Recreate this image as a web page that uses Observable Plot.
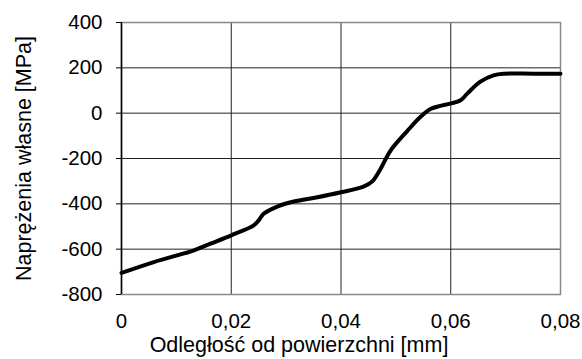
<!DOCTYPE html>
<html><head><meta charset="utf-8">
<script src="https://cdn.jsdelivr.net/npm/d3@7"></script>
<script src="https://cdn.jsdelivr.net/npm/@observablehq/plot@0.6"></script>
<style>body{margin:0;background:#fff;}</style>
</head><body><div id="chart"></div>
<script>
const xValues = [0, 0.0059, 0.0132, 0.0162, 0.02, 0.0241, 0.025, 0.0259, 0.0284, 0.0314, 0.0357, 0.04, 0.0442, 0.0457, 0.0472, 0.049, 0.0521, 0.0545, 0.0563, 0.0581, 0.0599, 0.0618, 0.063, 0.0654, 0.0678, 0.0697, 0.075, 0.08];
const yValues = [-705, -657, -605, -576, -539, -495, -473, -444, -412, -390, -371, -349, -323, -301, -246, -166, -78, -16, 18, 32, 42, 57, 86, 139, 167, 174, 174, 174];
const xTicks = [0, 0.02, 0.04, 0.06, 0.08];
const yTicks = [-800, -600, -400, -200, 0, 200, 400];
const xLabel = "Odległość od powierzchni [mm]";
const yLabel = "Naprężenia własne [MPa]";

const data = xValues.map((x, i) => ({x, y: yValues[i]}));
const fmtX = d => d === 0 ? "0" : d.toFixed(2).replace(".", ",");

const chart = Plot.plot({
  width: 582, height: 359,
  marginLeft: 121, marginRight: 22, marginTop: 22, marginBottom: 65,
  style: {fontFamily: "'Liberation Sans', Arial, sans-serif", fontSize: "20px", color: "#000", background: "#fff"},
  x: {domain: [0, 0.08]},
  y: {domain: [-800, 400]},
  marks: [
    Plot.gridX(xTicks, {stroke: "#222", strokeOpacity: 1, strokeWidth: 1}),
    Plot.gridY(yTicks, {stroke: "#222", strokeOpacity: 1, strokeWidth: 1}),
    Plot.frame({stroke: "#888", strokeWidth: 1.5}),
    Plot.ruleX([0], {stroke: "#000", strokeWidth: 1.5}),
    Plot.axisY(yTicks, {tickSize: 5, tickPadding: 14, tickFormat: d => String(d), label: null, fontSize: 20.5, stroke: "#000"}),
    Plot.axisX(xTicks, {tickSize: 0, tickPadding: 19, tickFormat: fmtX, label: null, fontSize: 20.5}),
    Plot.text([xLabel], {frameAnchor: "bottom", dy: 57, dx: -42, fontSize: 21.5}),
    Plot.text([yLabel], {frameAnchor: "left", textAnchor: "middle", dx: -97, dy: 0, rotate: -90, fontSize: 21.5}),
    Plot.line(data, {x: "x", y: "y", stroke: "#000", strokeWidth: 4, curve: "catmull-rom"})
  ]
});
document.getElementById("chart").appendChild(chart);
</script>
</body></html>
